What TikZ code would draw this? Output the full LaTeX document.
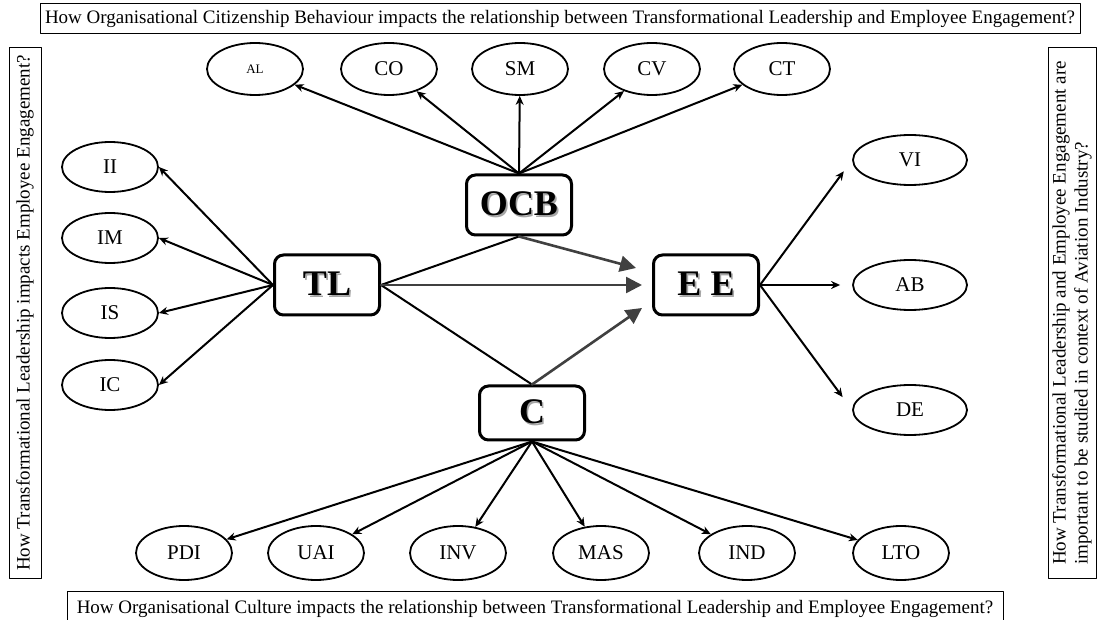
\documentclass[tikz,border=0pt]{standalone}
\usepackage{fontspec}
\setmainfont{Liberation Serif}
\usetikzlibrary{shapes.geometric,arrows.meta}
\newcommand{\shd}[1]{\makebox[0pt][l]{\color{black!35}\hspace{.8pt}\raisebox{-.8pt}{#1}}#1}
\tikzset{
	dim/.style={ellipse, draw, line width=.9pt, minimum width=48pt, minimum height=26pt, inner sep=0pt, font=\fontsize{10.5}{11}\selectfont},
	construct/.style={draw, line width=1.5pt, rounded corners=4.5pt, minimum width=52.5pt, minimum height=30pt, inner sep=0pt, font=\fontsize{18}{18}\selectfont\bfseries},
	question/.style={draw, line width=.5pt, inner sep=0pt, font=\fontsize{9.5}{11}\selectfont},
	link/.style={line width=1pt, -{Stealth[length=4.5pt,width=4pt]}},
	effect/.style={draw=black!75, line width=1.3pt, -{Triangle[length=8pt,width=8pt]}},
}
\begin{document}
\begin{tikzpicture}[x=.5pt, y=-.5pt, line join=round, line cap=round]
		\useasboundingbox (0,0) rectangle (1099,620);
		% questions round the model
		\node[question, minimum width=520pt, minimum height=15pt] (qOCB) at (560,19) {How Organisational Citizenship Behaviour impacts the relationship between Transformational Leadership and Employee Engagement?};
		\node[question, minimum width=468pt, minimum height=18pt] (qC) at (535,609) {How Organisational Culture impacts the relationship between Transformational Leadership and Employee Engagement?};
		\node[question, rotate=90, minimum width=265pt, minimum height=16pt] (qTL) at (25,313) {How Transformational Leadership impacts Employee Engagement?};
		\node[question, rotate=90, minimum width=265pt, minimum height=24pt, align=left] (qAV) at (1072,313) {How Transformational Leadership and Employee Engagement are\\important to be studied in context of Aviation Industry?};
		% constructs
		\node[construct] (OCB) at (519,205) {\shd{OCB}};
		\node[construct] (TL) at (327,285) {\shd{TL}};
		\node[construct] (EE) at (706,285) {\shd{E E}};
		\node[construct, minimum height=27pt] (C) at (532,413) {\shd{C}};
		% dimensions
		\node[dim, font=\fontsize{6.5}{7}\selectfont] (AL) at (255,69) {AL};
		\foreach \n/\x in {CO/389, SM/520, CV/652, CT/782} \node[dim] (\n) at (\x,69) {\n};
		\foreach \n/\y in {II/167, IM/238, IS/313, IC/385} \node[dim, minimum height=25pt] (\n) at (110,\y) {\n};
		\foreach \n/\y in {VI/160, AB/285, DE/410} \node[dim, minimum width=57pt, minimum height=25pt] (\n) at (910,\y) {\n};
		\foreach \n/\x in {PDI/184, UAI/316, INV/458, MAS/601, IND/747, LTO/901} \node[dim, minimum height=27pt] (\n) at (\x,553) {\n};
		% links
		\foreach \n in {AL,CO,SM,CV,CT} \draw[link] (OCB.north) -- (\n);
		\foreach \n in {II,IM,IS,IC} \draw[link] (TL.west) -- (\n.east);
		\foreach \n in {PDI,UAI,INV,MAS,IND,LTO} \draw[link] (C.south) -- (\n);
		\foreach \n/\s in {VI/7pt, AB/6pt, DE/8pt} \draw[link, shorten >=\s] (EE.east) -- (\n.west);
		\draw[line width=1pt] (TL.east) -- (OCB.south);
		\draw[line width=1pt] (TL.east) -- (C.north);
		% effects on EE
		\coordinate (eeOCB) at ([shift={(-16,-17)}]EE.west);
		\coordinate (eeC) at ([shift={(-10,23)}]EE.west);
		\draw[effect, shorten >=5pt] (TL.east) -- (EE.west);
		\draw[effect] (OCB.south) -- (eeOCB);
		\draw[effect] (C.north) -- (eeC);
\end{tikzpicture}
\end{document}
